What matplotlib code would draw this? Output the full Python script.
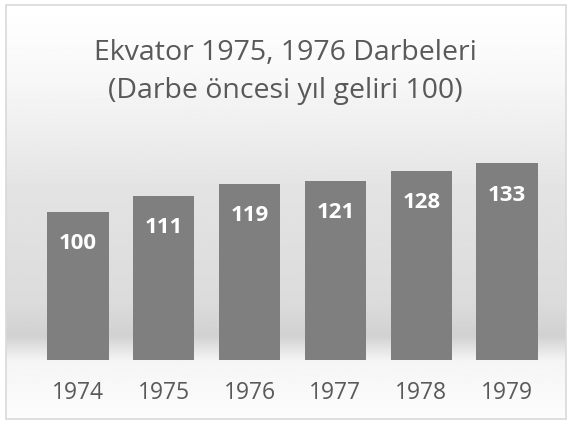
import numpy as np
import matplotlib.pyplot as plt
from matplotlib.patches import Rectangle

years = ["1974", "1975", "1976", "1977", "1978", "1979"]
values = [100, 111, 119, 121, 128, 133]
title = "Ekvator 1975, 1976 Darbeleri\n(Darbe öncesi yıl geliri 100)"

W, H = 571, 422
fig = plt.figure(figsize=(W / 100, H / 100), dpi=100)
fig.patch.set_facecolor("white")

# chart area background (vertical gradient inside the border)
bg = fig.add_axes([6 / W, 1 - 419 / H, 560 / W, 414 / H])
bg.set_axis_off()
ys = np.linspace(0, 1, 300)  # 0 = top
stops_y = [0.0, 0.18, 0.45, 0.72, 0.80, 0.86, 1.0]
stops_c = [1.0, 0.97, 0.89, 0.86, 0.82, 0.96, 0.99]
col = np.interp(ys, stops_y, stops_c)
img = np.repeat(col[:, None], 2, axis=1)
bg.imshow(img, cmap="gray", vmin=0, vmax=1, aspect="auto",
          extent=[0, 1, 1, 0], interpolation="bilinear")
bg.set_xlim(0, 1)
bg.set_ylim(1, 0)
# border
fig.patches.append(Rectangle((6 / W, 1 - 419 / H), 560 / W, 414 / H,
                             transform=fig.transFigure, fill=False,
                             edgecolor="#d9d9d9", linewidth=1.2))

# bars
ax = fig.add_axes([35 / W, 1 - 360 / H, 515 / W, 207 / H])
ax.patch.set_alpha(0)
x = np.arange(len(years))
bars = ax.bar(x, values, width=0.715, color="#7f7f7f", zorder=3)
ax.set_ylim(0, 140)
ax.set_xlim(-0.5, len(years) - 0.5)
for s in ax.spines.values():
    s.set_visible(False)
ax.set_yticks([])
ax.set_xticks(x)
ax.set_xticklabels(years, fontsize=16.5, color="#595959", family="Open Sans")
ax.tick_params(axis="x", length=0, pad=15)

for xi, v in zip(x, values):
    ax.text(xi, v - 21.5, str(v), ha="center", va="center", color="white",
            fontsize=16, fontweight="bold", family="Open Sans", zorder=4)

fig.text(0.5, 1 - 72 / H, title, ha="center", va="center", fontsize=20.5,
         color="#595959", family="Open Sans", linespacing=1.5)

fig.savefig("out.png", dpi=100)
